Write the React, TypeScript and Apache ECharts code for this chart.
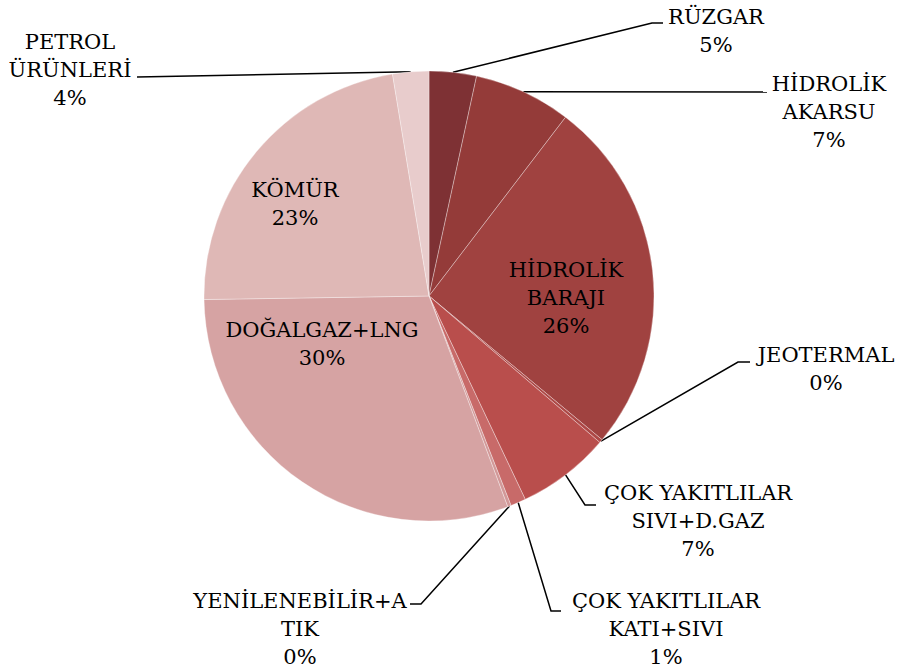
import React, { useEffect, useRef } from "react";
import * as echarts from "echarts";

// Categories (clockwise from 12 o'clock)
const categories = [
  "RÜZGAR",
  "HİDROLİK AKARSU",
  "HİDROLİK BARAJI",
  "JEOTERMAL",
  "ÇOK YAKITLILAR SIVI+D.GAZ",
  "ÇOK YAKITLILAR KATI+SIVI",
  "YENİLENEBİLİR+ATIK",
  "DOĞALGAZ+LNG",
  "KÖMÜR",
  "PETROL ÜRÜNLERİ",
];
// Displayed label lines (as wrapped in the reference)
const labelNames = [
  "RÜZGAR",
  "HİDROLİK\nAKARSU",
  "HİDROLİK\nBARAJI",
  "JEOTERMAL",
  "ÇOK YAKITLILAR\nSIVI+D.GAZ",
  "ÇOK YAKITLILAR\nKATI+SIVI",
  "YENİLENEBİLİR+A\nTIK",
  "DOĞALGAZ+LNG",
  "KÖMÜR",
  "PETROL\nÜRÜNLERİ",
];
// Slice shares
const shares = [3.4, 7.0, 25.7, 0.25, 6.7, 1.1, 0.25, 30.5, 22.7, 2.6];
// Percent labels printed on the chart
const pctLabels = [5, 7, 26, 0, 7, 1, 0, 30, 23, 4];

const colors = [
  "#7e3134",
  "#943b39",
  "#a04240",
  "#ad4846",
  "#b94e4c",
  "#c86a69",
  "#d29898",
  "#d6a3a3",
  "#dfb8b6",
  "#e8cccc",
];

// Label block centres (layout)
const labelPos: [number, number][] = [
  [716, 31],
  [829, 112],
  [566, 298],
  [826, 369],
  [698, 521],
  [666, 629],
  [300, 629],
  [322, 344],
  [295, 204],
  [70, 70],
];
// Leader line bend/end points after the slice anchor (null = inside label)
const leaderPts: (number[][] | null)[] = [
  [[652, 23], [663, 23]],
  [[767, 92]],
  null,
  [[738, 362], [750, 362]],
  [[585, 505], [596, 505]],
  [[551, 611], [561, 611]],
  [[421, 604], [410, 604]],
  null,
  null,
  [[137, 77]],
];

const FONT = "DejaVu Serif";

export default function App() {
  const ref = useRef<HTMLDivElement>(null);
  useEffect(() => {
    if (!ref.current) return;
    const chart = echarts.init(ref.current, null, { renderer: "svg" });
    const data = categories.map((name, i) => ({
      name,
      value: shares[i],
      itemStyle: { color: colors[i] },
      labelLine: { show: leaderPts[i] !== null },
    }));
    chart.setOption({
      animation: false,
      backgroundColor: "#ffffff",
      series: [
        {
          type: "pie",
          center: [429, 296],
          radius: 225,
          startAngle: 90,
          clockwise: true,
          avoidLabelOverlap: false,
          data,
          itemStyle: {
            borderColor: "rgba(255,255,255,0.55)",
            borderWidth: 0.6,
          },
          label: {
            show: true,
            position: "outside",
            color: "#000000",
            fontFamily: FONT,
            fontSize: 21,
            lineHeight: 28,
            align: "center",
            formatter: (p: any) =>
              labelNames[p.dataIndex]
                .split("\n")
                .concat([pctLabels[p.dataIndex] + "%"])
                .map((s) => "{t|" + s + "}")
                .join("\n"),
            rich: {
              t: {
                fontFamily: FONT,
                fontSize: 21,
                lineHeight: 28,
                color: "#000000",
                align: "center",
              },
            },
          },
          labelLine: {
            show: true,
            length: 10,
            length2: 10,
            lineStyle: { color: "#000000", width: 1.5 },
          },
          labelLayout: (p: any) => {
            const i = p.dataIndex;
            const out: any = {
              x: labelPos[i][0],
              y: labelPos[i][1],
              align: "center",
              verticalAlign: "middle",
            };
            const lp = leaderPts[i];
            if (lp && p.labelLinePoints && p.labelLinePoints[0]) {
              out.labelLinePoints = [p.labelLinePoints[0], ...lp];
            }
            return out;
          },
        },
      ],
    });
    return () => chart.dispose();
  }, []);
  return (
    <div
      ref={ref}
      style={{ position: "absolute", left: 0, top: 0, width: 898, height: 671 }}
    />
  );
}
